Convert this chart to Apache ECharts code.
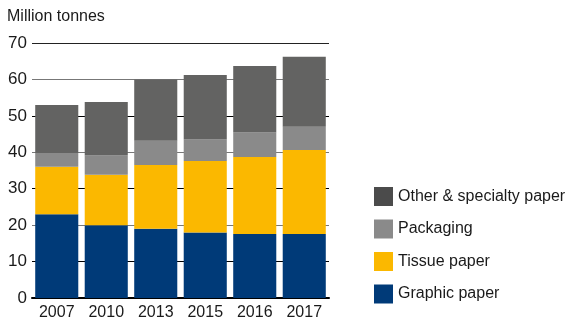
<!DOCTYPE html>
<html>
<head>
<meta charset="utf-8">
<style>
  html, body { margin: 0; padding: 0; background: #fff; }
  #chart { width: 566px; height: 323px; }
</style>
<script src="https://cdn.jsdelivr.net/npm/echarts@6/dist/echarts.min.js"></script>
</head>
<body>
<div id="chart"></div>
<script>
// Paper consumption by grade, million tonnes
const years = ['2007', '2010', '2013', '2015', '2016', '2017'];
const graphicPaper = [23, 20, 19, 18, 17.6, 17.6];
const tissuePaper = [13, 13.8, 17.5, 19.6, 21.1, 23];
const packaging = [3.8, 5.3, 6.7, 5.9, 6.7, 6.4];
const otherSpecialty = [13.2, 14.7, 16.8, 17.7, 18.3, 19.2];
const yTicks = [0, 10, 20, 30, 40, 50, 60, 70];

const FONT = '"Liberation Sans", Arial, sans-serif';

const chart = echarts.init(document.getElementById('chart'), null, { renderer: 'canvas' });

function barSeries(name, data, color) {
  return {
    name: name,
    type: 'bar',
    stack: 'total',
    data: data,
    barCategoryGap: '13%',
    itemStyle: { color: color },
    emphasis: { disabled: true }
  };
}

chart.setOption({
  animation: false,
  grid: { left: 32, right: 237, top: 43, bottom: 25, containLabel: false },
  graphic: [{
    type: 'text',
    left: 7,
    top: 9,
    style: { text: 'Million tonnes', font: '16px ' + FONT, fill: '#1a1a1a' }
  }],
  legend: {
    orient: 'vertical',
    left: 374,
    top: 187,
    padding: 0,
    itemWidth: 19,
    itemHeight: 19,
    itemGap: 13.5,
    icon: 'rect',
    selectedMode: false,
    textStyle: { fontFamily: FONT, fontSize: 16, color: '#1a1a1a' },
    data: [
      { name: 'Other & specialty paper', itemStyle: { color: '#4b4b4b' } },
      { name: 'Packaging', itemStyle: { color: '#8a8a8a' } },
      { name: 'Tissue paper', itemStyle: { color: '#fbb800' } },
      { name: 'Graphic paper', itemStyle: { color: '#003a78' } }
    ]
  },
  xAxis: {
    type: 'category',
    data: years,
    axisLine: { show: true, lineStyle: { color: '#000', width: 2 } },
    axisTick: { show: false },
    axisLabel: { fontFamily: FONT, fontSize: 16, color: '#1a1a1a', margin: 7 }
  },
  yAxis: {
    type: 'value',
    min: yTicks[0],
    max: yTicks[yTicks.length - 1],
    interval: 10,
    axisLine: { show: false },
    axisTick: { show: false },
    axisLabel: { fontFamily: FONT, fontSize: 17, color: '#1a1a1a', margin: 5 },
    splitLine: { show: true, lineStyle: { color: ['#000', '#000', '#777', '#000', '#777', '#000', '#777', '#222'], width: 1 } }
  },
  series: [
    barSeries('Graphic paper', graphicPaper, '#003a78'),
    barSeries('Tissue paper', tissuePaper, '#fbb800'),
    barSeries('Packaging', packaging, '#8a8a8a'),
    barSeries('Other & specialty paper', otherSpecialty, '#636362')
  ]
});
</script>
</body>
</html>
